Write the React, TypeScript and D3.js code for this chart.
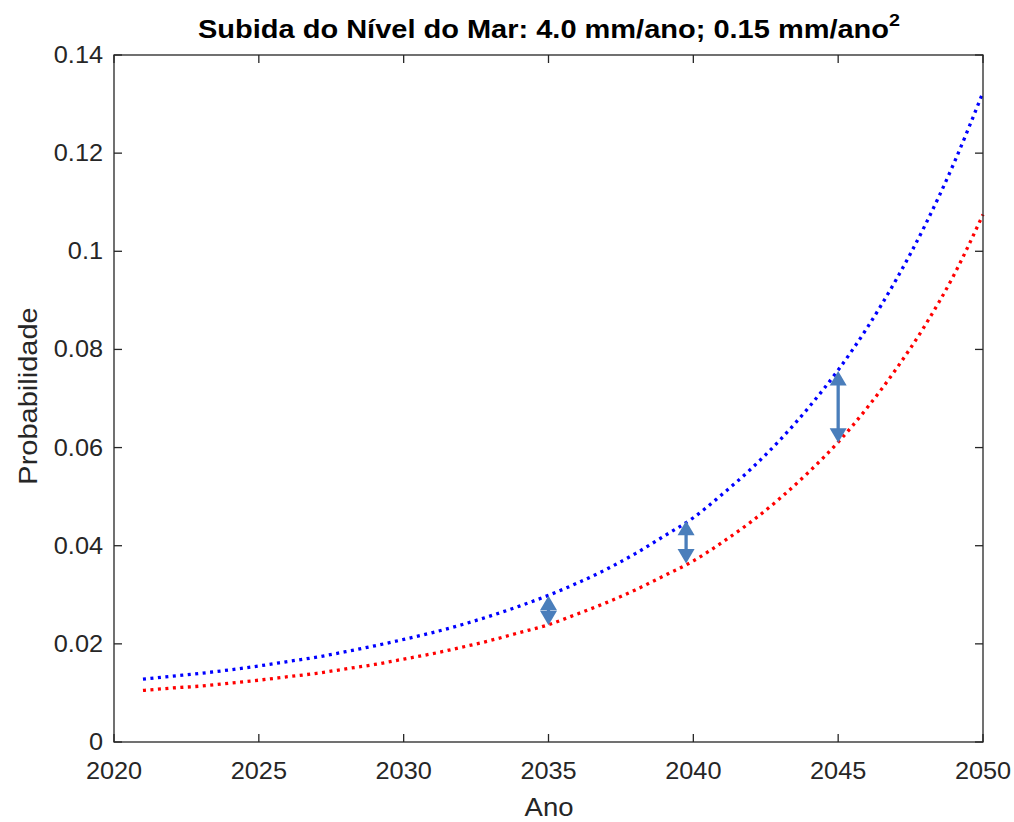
import React from "react";
import * as d3 from "d3";

const years = [2021, 2022, 2023, 2024, 2025, 2026, 2027, 2028, 2029, 2030, 2031, 2032, 2033, 2034, 2035, 2036, 2037, 2038, 2039, 2040, 2041, 2042, 2043, 2044, 2045, 2046, 2047, 2048, 2049, 2050];
const blueSeries = [0.0128, 0.0134, 0.0140, 0.0147, 0.0155, 0.0164, 0.0173, 0.0184, 0.0196, 0.0209, 0.0223, 0.0239, 0.0257, 0.0277, 0.0299, 0.0324, 0.0352, 0.0384, 0.0420, 0.0457, 0.0505, 0.0557, 0.0616, 0.0683, 0.0758, 0.0844, 0.0942, 0.1053, 0.1180, 0.1324];
const redSeries = [0.0105, 0.0110, 0.0114, 0.0120, 0.0126, 0.0133, 0.0140, 0.0149, 0.0158, 0.0169, 0.0180, 0.0193, 0.0207, 0.0223, 0.0239, 0.0261, 0.0284, 0.0310, 0.0339, 0.0369, 0.0407, 0.0449, 0.0497, 0.0551, 0.0611, 0.0681, 0.0760, 0.0849, 0.0952, 0.1075];
const arrowYears = [2035, 2039.75, 2045];
const arrowTops = [0.0298, 0.0451, 0.0756];
const arrowBottoms = [0.0238, 0.0364, 0.0610];
const xTicks = [2020, 2025, 2030, 2035, 2040, 2045, 2050];
const yTicks = [0, 0.02, 0.04, 0.06, 0.08, 0.1, 0.12, 0.14];
const yTickLabels = ["0", "0.02", "0.04", "0.06", "0.08", "0.1", "0.12", "0.14"];

const W = 1014, H = 822;
const M = { left: 114, right: 983, top: 55, bottom: 742 };

export default function App() {
  const x = d3.scaleLinear().domain([2020, 2050]).range([M.left, M.right]);
  const y = d3.scaleLinear().domain([0, 0.14]).range([M.bottom, M.top]);
  const line = d3.line<number>().x((_, i) => x(years[i])).y((d) => y(d)).curve(d3.curveMonotoneX);
  const axisColor = "#262626";
  const font = "'Liberation Sans', Arial, Helvetica, sans-serif";
  const sx = 1.1;
  const arrowColor = "#4a7ebb";
  const headW = 17, headH = 14.5;

  return (
    <svg width={W} height={H} style={{ position: "absolute", left: 0, top: 0, background: "#fff" }}>
      <rect x={0} y={0} width={W} height={H} fill="#fff" />
      {/* title */}
      <g transform={`translate(549,38) scale(1.16,1)`}>
        <text textAnchor="middle" fontFamily={font} fontWeight="bold" fontSize={25} fill="#000">
          Subida do Nível do Mar: 4.0 mm/ano; 0.15 mm/ano
          <tspan fontSize={17} dy={-12}>2</tspan>
        </text>
      </g>
      {/* lines */}
      <path d={line(blueSeries) || ""} fill="none" stroke="#0000ff" strokeWidth={3.3} strokeDasharray="3 4.5" />
      <path d={line(redSeries) || ""} fill="none" stroke="#ff0000" strokeWidth={3.3} strokeDasharray="3 4.5" />
      {/* arrows */}
      {arrowYears.map((yr, i) => {
        const ax = x(yr);
        const yt = y(arrowTops[i]);
        const yb = y(arrowBottoms[i]);
        return (
          <g key={i} fill={arrowColor}>
            {yb - yt > 2 * headH && (
              <line x1={ax} x2={ax} y1={yt + headH - 1} y2={yb - headH + 1} stroke={arrowColor} strokeWidth={3.3} />
            )}
            <polygon points={`${ax},${yt} ${ax - headW / 2},${yt + headH} ${ax + headW / 2},${yt + headH}`} />
            <polygon points={`${ax},${yb} ${ax - headW / 2},${yb - headH} ${ax + headW / 2},${yb - headH}`} />
          </g>
        );
      })}
      {/* box */}
      <rect x={M.left} y={M.top} width={M.right - M.left} height={M.bottom - M.top} fill="none" stroke={axisColor} strokeWidth={1.3} />
      {/* x ticks */}
      {xTicks.map((t) => (
        <g key={t}>
          <line x1={x(t)} x2={x(t)} y1={M.bottom} y2={M.bottom - 8} stroke={axisColor} strokeWidth={1.3} />
          <line x1={x(t)} x2={x(t)} y1={M.top} y2={M.top + 8} stroke={axisColor} strokeWidth={1.3} />
          <g transform={`translate(${x(t)},${M.bottom + 37}) scale(${sx},1)`}>
            <text textAnchor="middle" fontFamily={font} fontSize={23} fill={axisColor}>{t}</text>
          </g>
        </g>
      ))}
      {/* y ticks */}
      {yTicks.map((t, i) => (
        <g key={t}>
          <line x1={M.left} x2={M.left + 8} y1={y(t)} y2={y(t)} stroke={axisColor} strokeWidth={1.3} />
          <line x1={M.right} x2={M.right - 8} y1={y(t)} y2={y(t)} stroke={axisColor} strokeWidth={1.3} />
          <g transform={`translate(${M.left - 11},${y(t) + 8}) scale(${sx},1)`}>
            <text textAnchor="end" fontFamily={font} fontSize={23} fill={axisColor}>{yTickLabels[i]}</text>
          </g>
        </g>
      ))}
      {/* axis labels */}
      <g transform={`translate(549,816) scale(${sx},1)`}>
        <text textAnchor="middle" fontFamily={font} fontSize={25} fill={axisColor}>Ano</text>
      </g>
      <g transform={`translate(37,396) rotate(-90) scale(1.16,1)`}>
        <text textAnchor="middle" fontFamily={font} fontSize={25} fill={axisColor}>Probabilidade</text>
      </g>
    </svg>
  );
}
